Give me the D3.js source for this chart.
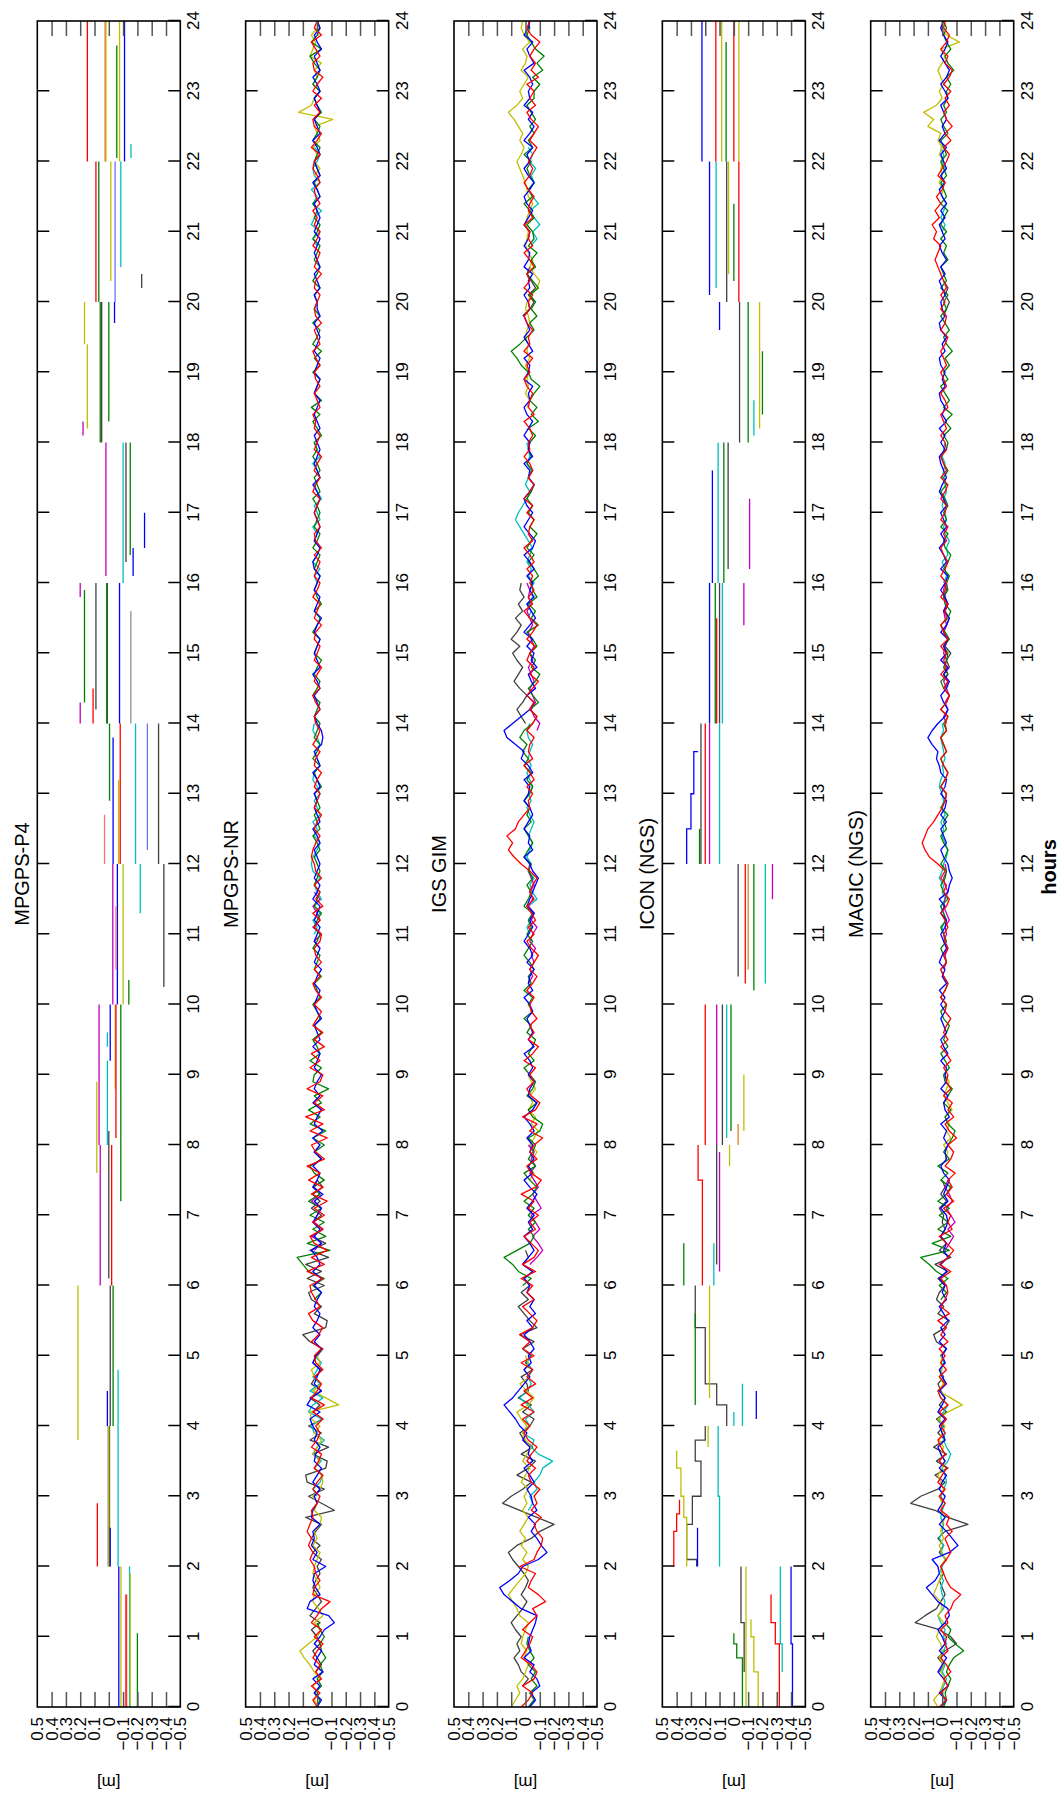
<!DOCTYPE html>
<html><head><meta charset="utf-8">
<script src="https://cdn.jsdelivr.net/npm/d3@7"></script>
<style>body{margin:0;background:#fff}svg{display:block}</style>
</head><body>
<svg id="chart" width="1060" height="1794"></svg>
<script>
// ---------------- DATA ----------------
const titles = ["MPGPS-P4", "MPGPS-NR", "IGS GIM", "ICON (NGS)", "MAGIC (NGS)"];
const hourTicks = [0,1,2,3,4,5,6,7,8,9,10,11,12,13,14,15,16,17,18,19,20,21,22,23,24];
const valueTicks = [-0.5,-0.4,-0.3,-0.2,-0.1,0,0.1,0.2,0.3,0.4,0.5];
const STEP = 0.1; // hours between samples of the noisy series (values in cm)

// ---- Panel 1: MPGPS-P4 (segments, [hour, cm], step-after) ----
const p4Red = [[[0,-12],[1.6,-12]],[[2,8],[2.9,8]],[[6,-2],[8,-2]],[[8.1,-5],[10,-5]],[[12,-8],[14,-8]],[[14,11],[14.5,11]],[[20,9],[22,9]],[[22,15],[24,15]]];
const p4Salmon = [[[10.5,-5],[11.4,-5]],[[12,3],[12.7,3]],[[0,-12.5],[1.6,-12.5]]];
const p4Blue = [[[0,-7],[2,-7]],[[2,-1],[2.55,-1]],[[4,1],[4.5,1]],[[9.2,-1],[10,-1]],[[10,-6],[12,-6]],[[12,-3],[13.8,-3]],[[14,-7.5],[16,-7.5]],[[16.1,-17],[16.5,-17]],[[16.5,-25],[17,-25]],[[19.7,-4],[20,-4]],[[22,-11],[24,-11]]];
const p4LightBlue = [[[12.2,-27],[14,-27]],[[20,-4.4],[22,-4.4]]];
const p4Green = [[[0,-20],[1.05,-20]],[[4,-3],[6,-3]],[[7.2,-8.4],[10,-8.4]],[[10,-14],[10.35,-14]],[[12.9,-0.5],[14,-0.5]],[[14.3,17],[15.9,17]],[[14,1],[16,1]],[[16.4,-15],[18,-15]],[[18,6],[20,6]],[[18.3,0],[20,0]],[[20,7],[22,7]],[[22.05,-5.6],[23.65,-5.6]]];
const p4Cyan = [[[0,-14.5],[2,-14.5]],[[2,-6.5],[4.8,-6.5]],[[8,1],[9.2,1]],[[9.4,1],[9.6,1]],[[11.3,-22],[12,-22]],[[12,-18.7],[14,-18.7]],[[16,-10],[18,-10]],[[20.5,-8.4],[22,-8.4]],[[22.05,-15.5],[22.25,-15.5]]];
const p4Yellow = [[[0,-8.5],[2,-8.5]],[[2,0],[4,0]],[[3.8,21.6],[6,21.6]],[[7.6,8.4],[8.9,8.4]],[[8.8,-4.5],[10,-4.5]],[[10,-10],[12,-10]],[[12,-6.8],[13.2,-6.8]],[[18.2,15],[19.4,15]],[[19.4,17],[20,17]],[[20.3,-1.4],[22,-1.4]],[[22,2],[24,2]],[[22,-7.5],[24,-7.5]],[[0,-15],[1.9,-15]]];
const p4Gray = [[[2,-0.5],[4,-0.5]],[[4,-1],[6,-1]],[[6.1,0],[8,0]],[[8,0],[8.2,0]],[[10.25,-38.5],[12,-38.5]],[[12,-34.8],[14,-34.8]],[[14,1.4],[16,1.4]],[[14.2,9],[16,9]],[[16.3,-12],[18,-12]],[[18,5],[20,5]],[[20.2,-23],[20.4,-23]]];
const p4LightGray = [[[14,-15.4],[15.6,-15.4]],[[2,0.5],[4,0.5]]];
const p4Magenta = [[[6,6],[8,6]],[[8,6.8],[10,6.8]],[[10,-2.8],[12,-2.8]],[[14,20],[14.3,20]],[[15.8,20],[16,20]],[[16.1,2],[18,2]],[[18.1,18],[18.3,18]]];
const p4Orange = [[[22,2.6],[24,2.6]]];

// ---- Panel 4: ICON (NGS) ----
const icGreen = [[[0,-6],[0.7,-2],[0.9,0],[1.05,0]],[[4.3,27],[5.6,27]],[[6,35],[6.6,35]],[[8.2,2],[10,2]],[[10.2,-14],[12,-14]],[[12,24],[12.5,24]],[[14,13],[16,13]],[[16,7],[18,7]],[[18.4,-20],[19.3,-20]],[[18,-10],[20,-10]],[[20.3,0],[21.4,0]],[[22,5.4],[23.7,5.4]]];
const icGray = [[[0.5,-7.2],[1.2,-5],[2,-5]],[[2,26],[2.1,33],[2.6,29],[3,23],[3.5,27],[3.8,20],[4,20]],[[4,5],[4.3,12],[4.6,20],[5.4,27],[6,27]],[[6.3,12],[8,12]],[[8,8],[10,8]],[[10.4,-3],[12,-3]],[[12,23],[14,23]],[[14,10],[16,10]],[[16.2,4],[18,4]],[[18,-4],[20,-4]],[[20,5],[22,5]]];
const icYellow = [[[0,-17],[0.5,-14],[1,-12],[1.25,-12]],[[0,-8.5],[2,-8.5]],[[2,33],[2.7,35],[3,37],[3.4,40],[3.65,40]],[[3.7,18],[4,18]],[[4.4,17],[6,17]],[[7.7,3],[8,3]],[[8.2,-7],[9,-7]],[[18.2,-18],[20,-18]],[[20.4,3.7],[22,3.7]],[[22,8.5],[24,8.5]],[[22,-3.5],[24,-3.5]]];
const icRed = [[[0,-31.8],[0.9,-29],[1.2,-26],[1.6,-26]],[[2,42],[2.5,40],[2.75,38],[2.95,38]],[[6,22],[7.5,25],[8,25]],[[8,20],[10,20]],[[10.3,-8],[12,-8]],[[12,20],[14,20]],[[14,12],[15.5,12]],[[20,-3.5],[22,-3.5]],[[22,12.6],[24,12.6]],[[22,0],[24,0]]];
const icCyan = [[[0.5,-33.8],[0.9,-32.5],[2,-32.5]],[[2,10],[3,11],[4,11]],[[4,0],[4.2,0]],[[4,-6],[4.6,-6]],[[6,14],[6.6,14]],[[8.1,5],[10,5]],[[10.3,-22],[12,-22]],[[12,10],[14,10]],[[14,8],[16,8]],[[16,11],[18,11]],[[18.1,-14],[18.6,-14]],[[20.2,12.4],[22,12.4]]];
const icBlue = [[[0,-41],[0.9,-40],[2,-40]],[[2,25.4],[2.55,25.4]],[[4.1,-15.7],[4.5,-15.7]],[[12,33],[12.5,30],[13,28],[13.6,25]],[[14,17],[16,17]],[[16,15],[17.6,15]],[[19.6,10],[20,10]],[[20.1,17],[22,17]],[[22,22.3],[24,22.3]]];
const icMagenta = [[[6.2,10],[7.9,10]],[[8,12],[10,12]],[[11.5,-27],[12,-27]],[[12,17],[14,17]],[[15.4,-7],[16,-7]],[[16.2,-11],[17.2,-11]]];
const icOrange = [[[8,-3],[8.3,-3]],[[10.5,-10],[12,-10]]];

// ---- Panel 2: MPGPS-NR (cm, every 0.1 h) ----
const nrRed = [0,3,-2,4,-3,1,-2,3,0,-4, 2,-3,4,0,-3,-9,3,2,-2,1, 2,5,3,6,4,7,5,3,4,0, -2,3,0,-4,2,-1,-3,4,0,-2, 1,-4,3,-5,4,0,-3,2,-4,1, 2,-3,4,-1,-4,3,6,-2,1,4, 5,-4,7,-5,4,-7,2,5,-4,3, -5,2,-7,4,-4,6,-2,7,-5,1, 4,-7,5,-4,8,-5,2,-4,7,-2, -4,5,-2,4,-5,2,-4,3,0,-3, 2,-3,1,3,-2,2,-3,1,2,-2, -3,2,-2,3,-4,1,-2,2,-3,1, 2,4,3,1,-2,2,0,-3,2,0, -2,2,0,-3,2,1,-2,3,0,-2, 1,2,-2,1,3,-2,2,0,-3,2, 0,-2,2,1,-3,2,0,-2,3,0, -2,2,0,-2,2,-3,1,2,-2,0, 2,0,-2,3,1,-2,2,0,-3,2, 0,-2,2,1,3,-2,0,2,-2,1, 2,-2,1,3,-2,0,2,-3,1,2, 0,-2,2,1,-3,2,0,-2,3,0, -2,2,0,3,-2,1,2,-2,0,3, 2,-2,4,0,-3,2,3,-2,2,-3, 3,0,-4,2,3,-2,1,4,-3,2, 0];
const nrBlue = [0,-3,2,-2,3,-4,2,0,-3,2, -2,-5,-12,-8,7,5,-2,1,3,2, -6,3,0,4,2,3,-2,4,3,0, 2,-2,3,0,-3,2,1,-2,2,0, 3,5,-2,7,4,-3,2,0,-2,3, 1,-3,2,-2,3,0,-2,2,0,-3, 2,-3,3,-2,0,4,-3,2,-2,3, 0,-3,2,-4,3,0,-2,3,-3,2, -2,3,-4,2,0,-3,3,-2,2,0, -3,2,0,-2,3,-2,0,2,-3,0, 2,0,-2,2,0,-3,2,0,-2,2, 0,-2,2,0,-2,3,0,-2,2,0, -2,0,2,-2,0,3,-2,0,2,0, 2,-2,0,3,-2,0,2,-3,-4,-3, 0,2,-2,0,2,-2,0,3,-2,0, 2,0,-2,2,0,-3,2,0,-2,2, 0,-2,2,3,0,-2,2,0,-2,0, 2,0,-2,0,3,-2,0,2,0,-2, 0,2,-2,0,2,0,-2,2,0,-2, 2,0,-2,2,0,-2,0,2,-2,0, 0,2,-2,0,2,-2,0,2,0,-2, 2,0,-2,0,2,-2,0,3,-2,0, 2,-2,0,3,-2,0,2,-2,0,2, -2,0,3,-2,0,2,-3,0,2,-2, 0];
const nrGreenA = [0,-2,2,-3,0,-4,-2,-6,-3,-2,-5,-2,0];
const nrGreenB = [2,-3, 3,-5,6,10,14,-9,7,-6,3,-5, 5,-3,6,-2,3,-5,2,5,-3,2, -5,3,-6,5,-2,6,-3,2,-8,3, 2,-3,5,-2,0,3,-3,2,-2,0, 3,-2,0,2,-3,2,0,-2,3,0, -2,2,0,-3,2,0,-2,2,0,-2, 0,2,-2,0,3,-2,0,2,-2,0, 2,-3,0,2,-2,3,0,-2,2,0, -2,2,0,-2,3,0,-2,2,0,-3, 2,0,-2,3,0,-2,2,-3,0,2, 0,-2,2,0,-2,3,0,-2,2,0, -2,0,3,-2,0,2,-2,0,3,0, 2,-3,0,3,-2,4,-3,2,0,-2, 3,-2,2,-3,3,0,-2,3,-2,2, 0,2,-2,3,0,-2,2,0,-2,3, 0,-2,2,0,3,-2,0,2,-2,0, 2,0,-2,3,0,-2,2,-3,0,2, -2,3,0,-2,2,5,-3,4,0,-2, 0];
const nrGray = [1,-3,0,3,-2, 0,4,-2,5,1,-3,0,3,1,-2, 0,-3,3,-2,4,1,-3,8,-12,-3, 6,-5,7,8,-6,-7,3,-8,5,-3, 6,-4,3,-2,5,-3,4,1,-3,3, 0,-4,5,10,-6,-7,2,-3,4,6, -5,7,-3,8,-8,5,-6,4,-4,3, -3,4,-2,3,-4,0];
const nrYellowA = [-1,2,0,3,-2,2,5,9,12,6, 0,-3,2,-4,-1,3,2,-2,0,3, 2,0,-2,3,0,2,-2,-3,2,0, 3,-2,-4,-3,2,-2,3,0,-3,2, -2,4,5,-15,-6,3,-3,2,4,-2, 0];
const nrYellowB = [2,-2, 2,0,3,-2,0,2,-11,13,4,2, -2,3,0,2,-3,5,3,1,4,0, 0];
const nrCyanA = [0,3,-2,-4,2,-3,3,0,-5,2, 4,-3,6,3,-4,5,-2,3,0,-3, 2];
const nrCyanB = [2,0,3,-2,2,-3,0,2,-2,3, 4,3,0,-2,2,0,3,-2,0,2, -2,0,3,2,-2,0,2,-2,0,3, 2];
const nrCyanC = [0,2,-2,3,0,-2,2,0,3,-2, 0,2,-3,0,2,-2,0,3,-2,0, 2];
const nrCyanD = [0,3,-2,4,2,-3,3,0,4,-2,2,3,0,-2,2];
const nrMagentaA = [2,-3,3,-4,2,0,-3,4,-2,2,0];
const nrMagentaB = [-2,2,-3,3,-2,0,3,-2,2];

// ---- Panel 3: IGS GIM ----
const gimRed = [3,-2,-5,2,-6,-8,-4,3,0,-3, -5,2,-3,-8,-5,-14,-9,-2,-4,-7, 4,-6,-8,-11,-12,-8,-6,-11,-4,-8, -6,-10,-4,-2,-7,-1,-4,-8,-2,1, -3,2,-6,3,-5,1,-7,-1,-5,3, -6,2,-3,4,-5,-8,-3,2,-6,-1, -5,3,-7,2,-6,-9,-4,1,-7,-3, -9,-2,-6,3,-7,-11,-4,-1,-8,-3, -6,-12,-3,-8,2,-7,-10,-4,-1,-6, -3,-7,1,-5,-9,-2,-6,-3,-8,-4, -3,-6,-1,-5,-8,-3,-6,-9,-4,-1, -6,-2,-7,-4,-1,-6,-3,-5,-8,-3, 3,8,12,9,13,7,5,1,-3,-2, -5,-1,-6,-3,1,-5,-2,-3,-6,-1, -5,-8,-3,-6,-1,-5,-9,-3,-6,-1, -3,-7,-1,-5,-8,-3,1,-5,-2,-6, -3,-5,-1,-6,-3,1,-5,-2,-3,-6, -1,-5,1,-3,-6,-2,-5,-3,1,-3, -2,-5,-3,1,-6,-2,-3,-5,-1,1, -3,-1,-5,1,-3,-2,-5,-1,1,-3, -2,-5,1,-3,-1,-6,-3,1,-5,-2, -3,1,-5,-2,-3,-6,-2,1,-3,-5, -2,-5,-8,-3,-6,-9,-4,-1,-7,-3, -6,-1,-9,-4,-7,-3,-6,-10,-4,-1, -3];
const gimBlue = [-3,-7,-4,-10,-8,-3,-6,1,-4,-2, -3,-5,-7,-8,3,9,15,18,11,5, 2,-9,-15,-11,-8,-4,-7,-2,-8,-5, -4,-1,-6,-3,1,-5,-2,-3,2,-1, 4,7,11,15,9,5,1,-3,1,-4, -2,-6,-3,1,-5,-1,-7,-3,-6,-1, -3,1,-5,2,-2,-6,-3,1,-5,-2, -6,-1,-5,-8,-3,1,-5,-2,-6,-3, -5,-1,-6,-3,1,-5,-8,-2,-3,-6, -2,-5,-3,1,-6,-2,-5,-3,-1,-5, -3,1,-5,-2,-3,-6,-1,-5,-3,1, -2,-5,-3,-6,-1,-3,-5,-7,-9,-5, -3,1,-5,-2,-3,1,-2,-5,-3,1, -2,-3,1,-5,-2,3,1,7,13,15, 9,3,-3,-6,-1,-7,-4,-2,-8,-4, -6,-1,-5,1,-3,-7,-4,-1,-6,-3, -5,-1,-6,-3,1,-5,-7,-3,1,-2, -5,-1,1,-3,-6,-2,-3,1,-5,-2, -3,1,-2,-5,-1,1,-3,-2,-5,1, -2,-3,1,-5,-2,1,-3,-1,1,-3, -2,1,-3,-2,-5,1,-2,-3,1,-2, -3,1,-2,-5,-1,1,-3,-6,-2,1, -3,-1,-5,1,-3,-6,-2,-5,1,-3, -2,-5,-3,1,-6,-3,-1,-5,1,-2, -3];
const gimGreenA = [-2,-6,-3,-8,-4,-7,-2,-6,-3,-1,-2];
const gimGreenB = [2,-4,5,9,15,6,-3,-6,-2,-7, -2,-6,1,-5,-8,-3,1,-7,-2,-5, -7,-2,-10,-12,-5,-2,-8,-1,-5,-7, -3,1,-6,-2,-5,-7,-1,-4,1,-5, -2,-5,1,-4,-2,-6,-3,1,-2,-5, -1,-4,-2,-5,1,-2,-4,-1,-5,-2, -4,1,-2,-5,-2,1,-4,-1,-3,1, -3,-5,-1,-4,1,-2,2,-1,4,1, -5,-8,-3,-9,-5,-2,-7,-10,-4,-7, -3,-8,-5,-1,-9,-4,-7,-2,-8,-5, -4,-9,-6,-2,-6,-1,-4,-8,-3,-6, -2,-5,-1,-4,-6,-2,-5,-1,-4,-2, -3,-7,-2,-9,-4,-8,-3,-6,-10,-4, -2,3,6,10,4,-1,-6,-3,-8,-4, -7,-3,-9,-5,-1,-7,-4,-8,-2,-6, -5,-1,-6,-3,1,-5,-2,-6,-3,-1, -4,1,-5,-2,-6,-3,-7,-4,-1,-6, -6,-10,-5,-12,-8,-13,-7,-4,-1,-3, -2];
const gimGrayA = [2,-2,3,5,8,4,6, 3,7,10,6,2,-1,3,0,-2,1, 5,9,12,6,-4,-10,-20,-8,4,16, 10,2,-4,6,-2,-7,3,-5,1,4, -3,-6,2,-4,5,-2,-1,3,-5,0, -4,2,-6,4,-8,-3,1,5,-2,3, -3,1,-5,2,-2,0];
const gimGrayB = [0,3,6,2,-1,4,8,5,2,6, 9,4,10,6,3,7,2,5,1,4, 3];
const gimGrayC = [2,-3,-6,-2,-7,-4,-1,-3];
const gimYellowA = [10,7,4,6,2,0,-2,1,-1,3, 2,0,-2,4,6,9,12,8,4,0, -2,2,-1,3,0,4,1,-2,2,-1, 1,-2,3,0,-3,2,-1,-4,0,2, -1,3,6,-2,-6,-1,4,-3,1,-2, 0];
const gimYellowB = [-3,-6,-2,-5,-8,-3,-6,-9,-4,-7,-2,-5,-3,-7,-4,-2];
const gimYellowC = [-1,-3,0,-2,-1, -2,0,-3,-1,-2,0,-1,-3,-2,0, -1,-4,-8,-10,-6,-3,-5,-2,0,-1, -2,0,-1,-3,-5,-2,-1,0,2,4, 6,3,1,4,2,5,8,12,6,2, 4,1,-2,3,0,-1,2,-3,1,3, 2];
const gimCyanA = [-2,-5,-3,-8,-6,-10,-12,-19,-9,-4,-6,2,-3,0,-6,-2,4,-1,-4,-2,-5,-1,-3];
const gimCyanB = [-3,-1,-4,-6,-2,-8,-5,-3,-6,-2, -4,-1,-3,-5,-2,-4,-6,-3,-1,-4, -2,-5,-3,-1,-4,-2,-3,-5,-2,-1, -3];
const gimCyanC = [-2,-4,-1,-5,-3,-6,-2,-4,-1,-3, -5,-2,1,4,7,5,2,-1,-3,0, -2,-4,-1,-3,-2,-1];
const gimCyanD = [-4,-8,-5,-10,-6,-3,-9,-5,-2,-6,-4,-7,-3,-5,-2];
const gimMagentaA = [-3,-8,-12,-9,-5,-10,-7,-4,-11,-8,-5,-9,-6,-3,-7,-4,-6,-2];
const gimMagentaB = [-2,-5,-3,-6,-4,-7,-3,-5,-8,-4,-6,-2,-5,-3,-6,-4,-2,-3];
const gimMagentaC = [-8,-10,-6,-4,-7,-5,-3,-6,-4,-2,-5,-3,-6,-4,-2,-5,-3,-1,-4,-2,-3,-1];

// ---- Panel 5: MAGIC (NGS) ----
const mgRed = [2,-3,1,-4,-1,-6,-3,1,-4,-2, -3,1,-4,-2,-6,-8,-13,-6,-3,-1, 1,-3,-6,-4,-2,-7,-3,-5,1,-2, 2,-2,3,0,-3,2,-2,1,3,-2, 1,-3,2,-4,1,3,-2,2,-3,1, -2,2,-4,1,-3,3,-5,1,-2,-4, -3,1,-6,2,-4,-8,-3,2,-7,-4, -6,-1,-8,-3,-7,-4,-9,-2,-6,-8, -4,-10,-5,-2,-8,-4,-7,-1,-6,-3, -4,-1,-6,-3,1,-4,-1,-3,-6,-2, -3,1,-2,-4,-1,1,-3,-1,-4,-2, -1,-4,-2,1,-3,-5,-1,-3,1,-2, 3,9,12,14,12,10,6,3,0,-2, -3,1,-2,-4,-1,1,-3,-1,1,-3, -2,-4,1,-3,-5,-1,-4,1,-3,-1, -3,1,-4,-1,1,-3,-2,-4,1,-2, -3,1,-2,-4,-1,1,-3,-1,-4,1, -2,-3,1,-2,-4,1,-3,-1,1,-3, -2,1,-3,-1,1,-4,-2,1,-3,-1, 1,-3,-1,1,-2,-4,1,-2,-3,1, -2,1,-3,-1,1,3,5,3,1,6, 4,7,2,5,1,4,0,-2,3,0, -3,-5,-1,-6,-2,-7,-3,-1,-5,-2, -6,-1,-5,-7,-2,-4,1,-3,-5,-1, -2];
const mgBlue = [1,-3,2,-4,-1,3,0,-3,2,-2, 0,3,-2,-5,-4,3,7,11,5,2, 3,7,-5,-11,-7,-3,2,-2,3,0, -2,2,0,-3,2,-2,1,3,-2,0, 2,-2,3,0,-2,2,-3,0,2,-2, 0,-3,2,-2,1,-4,-1,2,-3,0, -2,2,-3,1,-4,-1,-3,1,-2,-4, -3,1,-4,-1,-3,-5,-1,1,-3,-2, -4,-1,-3,1,-5,-2,-1,-4,1,-3, -2,-3,1,-4,-1,1,-3,-1,1,-2, 1,-2,2,-3,0,-2,2,0,-3,-1, 1,-2,-3,1,-2,2,-4,-5,-7,-5, -4,-1,1,-3,-1,1,-3,1,-2,-3, 1,-2,-3,1,2,4,3,7,10,7, 3,-2,-4,-1,1,-3,-5,-1,-4,1, -3,-1,-4,1,-3,-5,-1,-4,-2,1, -2,-4,1,-3,-1,2,-2,1,-3,-1, 1,-3,-1,2,0,-3,-1,1,2,-2, 1,-2,2,-3,0,-2,1,2,-2,0, -2,1,2,-2,0,-3,1,2,-2,0, 1,-2,0,2,-2,1,-3,0,2,-2, 0,2,-2,1,-3,0,2,-2,1,-3, -1,1,-3,2,-2,0,-3,-1,1,-4, -2,1,-3,-5,-2,1,-2,-4,-1,1, -1];
const mgGreenA = [-1,-3,-2,-4,-6,-3,-5,-8,-15,-9,-4,-6,-2];
const mgGreenB = [1,-3, 2,-4,4,9,15,-5,7,-6,3,-4, 2,-5,3,-3,-6,1,-4,3,-5,-1, -4,-7,-9,-4,-2,-6,-1,-4,-7,-2, -1,-5,-2,1,-4,-1,-3,-5,-1,1, -3,1,-2,-4,-1,1,-3,-1,1,-3, -1,1,-3,-1,1,-4,-1,1,-2,-3, 1,-2,-4,-1,1,-3,-1,-4,1,-2, -3,1,-2,-4,-1,1,-3,-1,1,-3, -1,-4,1,-3,-5,-1,1,-4,-1,-3, -4,-1,-5,-2,1,-4,-6,-2,-1,-4, -3,-5,-1,-4,-6,-2,-1,-4,1,-3, -1,-4,-2,1,-3,-1,-4,-1,1,-3, -4,-1,-6,-2,-7,-1,-5,-2,1,-4, -1,-5,-2,-7,-3,-1,-5,-2,1,-3, -1,-4,1,-3,-1,1,-4,-1,-3,1, -3,1,-1,-4,1,-3,-1,1,-3,-1, 1,-3,-1,1,-4,-1,1,-3,-1,-4, -3,-6,-3,-8,-4,-2,-6,-3,-1,-3, -1];
const mgGrayA = [2,-1,3,-2,-10, -6,2,19,12,4,1,-2,0,2,-1, 1,-3,2,-1,3,-2,-18,-4,5,22, 15,3,-2,5,-4,4,-3,6,-2,3, -1,4,-3,2,-2,1,3,-1,2,-2, 1,-3,4,6,-2,-5,3,-1,4,2, -2,3,-4,5,-6,2,-3,1,-2,0, -1,2,-3,1,-2,0];
const mgGrayB = [-2,-4,-1,-5,-3,-6,-2,-4,-1,-3,-5,-2,-4,-1,-3,-2];
const mgGrayC = [-1,-3,-5,-2,-4,-1];
const mgYellowA = [3,6,2,0,-2,1,-1,2,0,1, 4,2,-1,3,0,1,6,4,2,0, 1,-2,0,2,-1,1,0,-2,1,0, 2,-1,1,3,0,-2,1,-1,2,0, -2,3,-4,-14,-6,3,-1,2,0,1, 0];
const mgYellowB = [-2,-4,-1,-6,-3,-5,-2,-7,-4,-1,-3,-5,-2];
const mgYellowC = [1,-1,2,0,1, -1,2,0,3,1,10,6,13,4,0, 2,-1,1,3,0,-2,1,-12,-3,1, 0];
const mgCyanA = [0,-2,1,-1,-3,0,-2,1,-1,-3, -1,-2,1,3,-1,-2,0,1,-1,2, 0,-2,1,-1,2,0,-1,1,0,-2, 1,-1,-3,-2,0,-4,-6,-3,-1,-2, 0,2,-1,-4,1,3,-2,0,1,-1, 0];
const mgCyanB = [-1,0,-2,-1,1,-2,0,-1,2,0, -1,-3,-4,-2,0,-1,1,-2,0,-1, 0,2,1,-1,0,-2,-1,0,1,-1, 0];
const mgCyanC = [-1,-3,-2,0,-4,-3,-5,-2,-1,-3, -2,0,-1,-3,-2,0,-1,-2,0,-1, -2];
const mgCyanD = [0,-2,1,-1,-3,0,2,-1,1,-2,0,-1,1];
const mgMagentaA = [-2,-5,-8,-4,-9,-6,-3,-7,-5,-2,-4];
const mgMagentaB = [-1,-3,-2,-4,-1,-3,-2,-5,-3,-1,-2,-4,-2,-1,-3,-2];
const mgMagentaC = [-3,-1,-4,-2,-5,-3,-1,-4,-2,-3,-1,-2,-4,-1,-3,-2,-1,-3,-2,-1,-2];

// series tables: [colour key, start hour, values]
const nrLines = [["gray",0.5,nrGray],["cyan",3.0,nrCyanA],["cyan",11.0,nrCyanB],["cyan",16.0,nrCyanC],["cyan",20.8,nrCyanD],["yellow",0,nrYellowA],["yellow",21.8,nrYellowB],["magenta",6.5,nrMagentaA],["magenta",10.8,nrMagentaB],["green",0,nrGreenA],["green",5.8,nrGreenB],["blue",0,nrBlue],["red",0,nrRed]];
const gimLines = [["gray",0.3,gimGrayA],["gray",14.0,gimGrayB],["gray",19.8,gimGrayC],["cyan",2.8,gimCyanA],["cyan",11.0,gimCyanB],["cyan",15.5,gimCyanC],["cyan",20.8,gimCyanD],["yellow",0,gimYellowA],["yellow",7.5,gimYellowB],["yellow",18.5,gimYellowC],["magenta",6.3,gimMagentaA],["magenta",10.3,gimMagentaB],["magenta",13.9,gimMagentaC],["green",0,gimGreenA],["green",6.0,gimGreenB],["blue",0,gimBlue],["red",0,gimRed]];
const mgLines = [["gray",0.5,mgGrayA],["gray",14.5,mgGrayB],["gray",19.8,mgGrayC],["cyan",0,mgCyanA],["cyan",11.0,mgCyanB],["cyan",16.0,mgCyanC],["cyan",21.0,mgCyanD],["yellow",0,mgYellowA],["yellow",7.8,mgYellowB],["yellow",21.5,mgYellowC],["magenta",6.5,mgMagentaA],["magenta",10.5,mgMagentaB],["magenta",14.0,mgMagentaC],["green",0,mgGreenA],["green",5.8,mgGreenB],["blue",0,mgBlue],["red",0,mgRed]];
const p4Lines = [["lightgray",p4LightGray],["gray",p4Gray],["cyan",p4Cyan],["yellow",p4Yellow],["magenta",p4Magenta],["orange",p4Orange],["green",p4Green],["lightblue",p4LightBlue],["blue",p4Blue],["salmon",p4Salmon],["red",p4Red]];
const icLines = [["gray",icGray],["cyan",icCyan],["yellow",icYellow],["magenta",icMagenta],["orange",icOrange],["green",icGreen],["blue",icBlue],["red",icRed]];

const palette = {red:"#ff0000", salmon:"#ff7070", blue:"#0000ff", lightblue:"#7070ff", green:"#008000", cyan:"#00bfbf", yellow:"#bfbf00", magenta:"#bf00bf", gray:"#404040", lightgray:"#909090", orange:"#e08020"};

// ---------------- DRAW ----------------
const svg = d3.select("#chart");
const root = svg.append("g").attr("transform", "translate(0,1794) rotate(-90)"); // figure drawn landscape, shown rotated
const FONT = "'Liberation Sans', Arial, Helvetica, sans-serif";
const x = d3.scaleLinear().domain([0, 24]).range([87, 1773]);
const PH = 143, GAP = 208.35, TOP0 = 37.3;

titles.forEach((title, i) => {
  const top = TOP0 + i * GAP;
  const y = d3.scaleLinear().domain([-0.5, 0.5]).range([top + PH, top]);
  const g = root.append("g");
  const clipId = "clip" + i;
  svg.append("defs").append("clipPath").attr("id", clipId)
    .append("rect").attr("x", x(0)).attr("y", top).attr("width", x(24) - x(0)).attr("height", PH);

  const plot = g.append("g").attr("clip-path", `url(#${clipId})`);
  const line = d3.line().x(d => x(d[0])).y(d => y(d[1] / 100));
  const stepLine = d3.line().x(d => x(d[0])).y(d => y(d[1] / 100)).curve(d3.curveStepAfter);

  if (i === 0 || i === 3) {
    const table = i === 0 ? p4Lines : icLines;
    table.forEach(([key, segs]) => {
      segs.forEach(seg => {
        plot.append("path").attr("d", stepLine(seg)).attr("fill", "none")
          .attr("stroke", palette[key]).attr("stroke-width", 1.3);
      });
    });
  } else {
    const table = i === 1 ? nrLines : (i === 2 ? gimLines : mgLines);
    table.forEach(([key, start, vals]) => {
      const pts = vals.map((v, k) => [start + k * STEP, v]);
      plot.append("path").attr("d", line(pts)).attr("fill", "none")
        .attr("stroke", palette[key]).attr("stroke-width", 1.3).attr("stroke-linejoin", "round");
    });
  }

  // hour axes (bottom with labels, top without)
  const axB = g.append("g").attr("transform", `translate(0,${top + PH})`)
    .call(d3.axisBottom(x).tickValues(hourTicks).tickSize(-12).tickPadding(7).tickFormat(d3.format("d")));
  const axT = g.append("g").attr("transform", `translate(0,${top})`)
    .call(d3.axisTop(x).tickValues(hourTicks.slice(1, -1)).tickSize(-12).tickFormat(""));
  // value axes (left with labels, right without)
  const fmt = v => (Math.abs(v) < 1e-9 ? "0" : d3.format(".1f")(v));
  const axL = g.append("g").attr("transform", `translate(${x(0)},0)`)
    .call(d3.axisLeft(y).tickValues(valueTicks).tickSize(-15).tickPadding(10).tickFormat(fmt));
  const axR = g.append("g").attr("transform", `translate(${x(24)},0)`)
    .call(d3.axisRight(y).tickValues(valueTicks.slice(1, -1)).tickSize(-15).tickFormat(""));
  [axB, axT, axL, axR].forEach(a => {
    a.select(".domain").remove();
    a.selectAll("text").attr("font-family", FONT).attr("font-size", 17).attr("fill", "#000");
  });
  [axB, axT].forEach(a => a.selectAll(".tick line").attr("stroke", "#000").attr("stroke-width", 1.5));
  [axL, axR].forEach(a => a.selectAll(".tick line").attr("stroke", "#555").attr("stroke-width", 1.5));
  axL.selectAll(".tick").filter(d => Math.abs(d) > 0.45).select("line").remove();

  g.append("rect").attr("x", x(0)).attr("y", top).attr("width", x(24) - x(0)).attr("height", PH)
    .attr("fill", "none").attr("stroke", "#000").attr("stroke-width", 1.6);

  g.append("text").attr("x", 920).attr("y", top - 8).attr("text-anchor", "middle")
    .attr("font-family", FONT).attr("font-size", 20).text(title);

  g.append("text").attr("transform", `translate(17,${top + PH / 2}) rotate(-90)`)
    .attr("text-anchor", "middle").attr("font-family", FONT).attr("font-size", 17).text("[m]");
});

root.append("text").attr("x", 927).attr("y", 1056).attr("text-anchor", "middle")
  .attr("font-family", FONT).attr("font-size", 20).attr("font-weight", "bold").text("hours");
</script>
</body></html>
